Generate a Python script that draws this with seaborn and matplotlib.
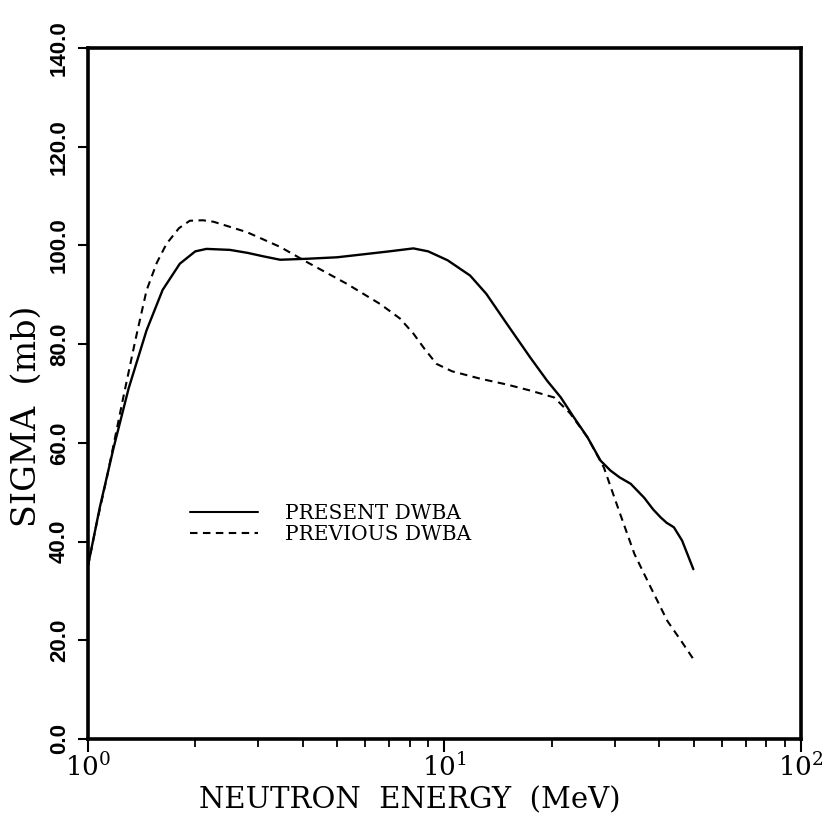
import matplotlib
matplotlib.use("Agg")
import matplotlib.pyplot as plt
import numpy as np
import pandas as pd
import seaborn as sns
from matplotlib.ticker import LogLocator, FixedLocator, FormatStrFormatter, NullFormatter

# ---- data ----
present_energy = [1.0, 1.08, 1.18, 1.30, 1.46, 1.62, 1.81, 2.0, 2.15, 2.5, 2.8, 3.1, 3.46, 4.12,
                  5.0, 5.92, 7.0, 8.18, 9.0, 10.2, 11.8, 13.1, 15.0, 17.4, 19.4, 21.2, 23.0,
                  25.2, 27.4, 29.2, 31.0, 33.3, 36.3, 38.5, 40.4, 42.0, 44.0, 46.4, 48.0, 49.9]
present_sigma = [35.1, 47.0, 59.0, 71.0, 82.8, 91.0, 96.3, 98.8, 99.3, 99.1, 98.5, 97.8, 97.1, 97.3,
                 97.6, 98.2, 98.8, 99.4, 98.8, 97.0, 93.9, 90.2, 84.0, 77.3, 72.6, 69.2, 65.3,
                 61.1, 56.4, 54.4, 53.0, 51.7, 48.9, 46.5, 44.9, 43.8, 42.9, 40.2, 37.5, 34.4]

previous_energy = [1.0, 1.06, 1.13, 1.257, 1.36, 1.46, 1.56, 1.66, 1.80, 1.93, 2.1, 2.25, 2.79, 3.46,
                   4.12, 5.33, 6.61, 7.5, 8.19, 8.8, 9.5, 10.5, 12.6, 15.0, 17.4, 20.3, 22.5,
                   25.2, 28.0, 31.1, 34.1, 37.9, 42.2, 46.0, 50.0]
previous_sigma = [35.0, 44.0, 53.0, 69.3, 81.0, 90.9, 96.5, 100.3, 103.5, 105.0, 105.1, 104.8, 102.7, 99.7,
                  96.6, 92.2, 88.1, 85.2, 82.1, 79.0, 76.0, 74.5, 73.0, 71.8, 70.6, 69.2, 66.0,
                  61.1, 55.0, 45.6, 37.5, 30.7, 23.9, 20.0, 16.1]

series_labels = ["PRESENT DWBA", "PREVIOUS DWBA"]
y_ticks = [0.0, 20.0, 40.0, 60.0, 80.0, 100.0, 120.0, 140.0]
x_label = "NEUTRON  ENERGY  (MeV)"
y_label = "SIGMA  (mb)"

df = pd.concat([
    pd.DataFrame({"energy": present_energy, "sigma": present_sigma, "series": series_labels[0]}),
    pd.DataFrame({"energy": previous_energy, "sigma": previous_sigma, "series": series_labels[1]}),
], ignore_index=True)

sns.set_theme(style="ticks")
plt.rcParams["font.family"] = ["DejaVu Serif"]
plt.rcParams["mathtext.fontset"] = "dejavuserif"
for key in ["text.color", "axes.labelcolor", "xtick.color", "ytick.color", "axes.edgecolor"]:
    plt.rcParams[key] = "black"

fig = plt.figure(figsize=(8.26, 8.18), dpi=100)
ax = fig.add_axes([0.1065, 0.0966, 0.8632, 0.8447])

sns.lineplot(data=df[df["series"] == series_labels[0]], x="energy", y="sigma", ax=ax,
             color="black", linewidth=1.7, estimator=None, sort=False, label=series_labels[0])
sns.lineplot(data=df[df["series"] == series_labels[1]], x="energy", y="sigma", ax=ax,
             color="black", linewidth=1.5, estimator=None, sort=False, label=series_labels[1],
             linestyle=(0, (3.6, 2.6)))

ax.set_xscale("log")
ax.set_xlim(1, 100)
ax.set_ylim(0, 140)

for s in ax.spines.values():
    s.set_linewidth(2.6)
    s.set_color("black")

ax.xaxis.set_major_locator(LogLocator(base=10, numticks=5))
ax.xaxis.set_minor_locator(LogLocator(base=10, subs=np.arange(2, 10), numticks=20))
ax.xaxis.set_minor_formatter(NullFormatter())
ax.yaxis.set_major_locator(FixedLocator(y_ticks))
ax.yaxis.set_major_formatter(FormatStrFormatter("%.1f"))

ax.tick_params(axis="x", which="major", direction="out", length=9, width=1.5,
               labelsize=19, pad=1, top=False, colors="black")
ax.tick_params(axis="x", which="minor", direction="out", length=6, width=1.3, top=False)
ax.tick_params(axis="y", which="major", direction="out", length=7, width=1.5,
               labelsize=16, pad=6, right=False, labelrotation=90, colors="black")
for lab in ax.get_yticklabels():
    lab.set_fontfamily("Liberation Sans")
    lab.set_fontweight("bold")
    lab.set_verticalalignment("center")

ax.set_xlabel(x_label, fontsize=21)
ax.set_ylabel(y_label, fontsize=24)
ax.xaxis.set_label_coords(0.452, -0.068)
ax.yaxis.set_label_coords(-0.063, 0.467)

leg = ax.legend(frameon=False, loc="upper left", bbox_to_anchor=(0.143, 0.34),
                fontsize=14.5, handlelength=3.4, handletextpad=1.3, labelspacing=0.1,
                borderpad=0, borderaxespad=0)
for h in leg.get_lines():
    h.set_linewidth(1.5)

ax.grid(False)
fig.savefig("out.png", dpi=100, facecolor="white")
